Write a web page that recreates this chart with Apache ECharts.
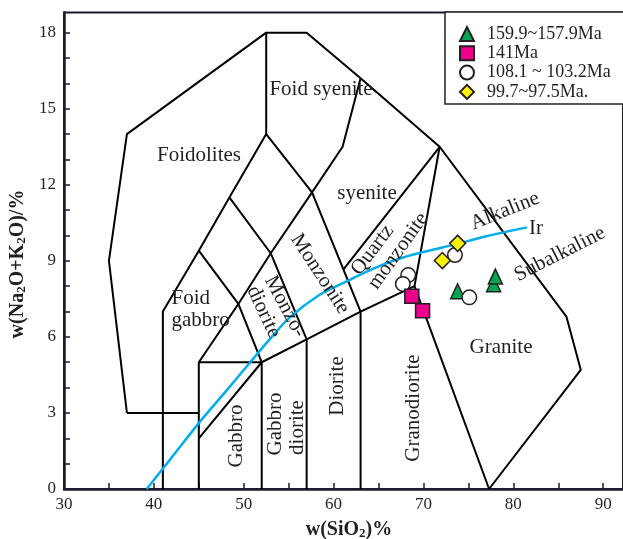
<!DOCTYPE html>
<html>
<head>
<meta charset="utf-8">
<script src="https://cdn.jsdelivr.net/npm/echarts@6/dist/echarts.min.js"></script>
<style>
  html, body { margin: 0; padding: 0; background: #fff; }
  #main { width: 623px; height: 539px; }
</style>
</head>
<body>
<div id="main"></div>
<script>
// ---- sample groups (SiO2 wt%, Na2O+K2O wt%) ----
const groupNames = ['159.9~157.9Ma', '141Ma', '108.1 ~ 103.2Ma', '99.7~97.5Ma.'];
const group1 = [[73.8, 7.8], [77.8, 8.08], [78.0, 8.38]];
const group2 = [[68.7, 7.6], [69.9, 7.03]];
const group3 = [[73.5, 9.23], [68.3, 8.44], [67.7, 8.09], [75.1, 7.56]];
const group4 = [[73.8, 9.69], [72.1, 9.01]];

// ---- axis tick labels ----
const xTickLabels = [30, 40, 50, 60, 70, 80, 90];
const yTickLabels = [0, 3, 6, 9, 12, 15, 18];

// ---- plutonic TAS field boundaries ----
const outerLine = [[37, 3], [35, 9], [37, 14], [52.5, 18], [57, 18], [63, 16.2], [71.8, 13.5], [85.9, 6.8], [87.5, 4.7], [77.3, 0]];
const base3Line = [[37, 3], [45, 3]];
const foidGabbroLine = [[41, 0], [41, 7], [45, 9.4], [48.4, 11.5], [52.5, 14], [52.5, 18]];
const syeniteLine = [[52.5, 14], [57.6, 11.7], [63, 7], [63, 0]];
const foidSyeniteLine = [[57.6, 11.7], [61, 13.5], [63, 16.2]];
const monzoniteLine = [[48.4, 11.5], [53, 9.3], [57, 5.9], [57, 0]];
const monzodioriteLine = [[57.6, 11.7], [53, 9.3], [49.4, 7.3], [45, 5]];
const gabbroDioriteLine = [[45, 9.4], [49.4, 7.3], [52, 5], [52, 0]];
const lowerLine = [[45, 0], [45, 5], [52, 5], [57, 5.9], [63, 7], [69, 8], [71.8, 13.5]];
const gabbroSplitLine = [[45, 2], [52, 5]];
const quartzMonzoniteLine = [[61.1, 8.66], [71.8, 13.5]];
const graniteLine = [[69, 8], [77.3, 0]];
const fieldLines = [outerLine, base3Line, foidGabbroLine, syeniteLine, foidSyeniteLine, monzoniteLine,
  monzodioriteLine, gabbroDioriteLine, lowerLine, gabbroSplitLine, quartzMonzoniteLine, graniteLine];

// Irvine & Baragar alkaline / subalkaline divide
const irLine = [[39.2, 0], [42, 1.25], [45, 2.6], [48, 3.85], [50.6, 4.95], [53, 5.95], [55.06, 6.75],
  [58.4, 7.65], [61.5, 8.2], [64.5, 8.7], [67.25, 9.08], [70.6, 9.4], [73.2, 9.62], [77, 9.97], [81.5, 10.32]];

const FONT = '"Liberation Serif", "Times New Roman", serif';
const INK = '#231f20';
const AXIS = '#1c1b2e';

const chart = echarts.init(document.getElementById('main'), null, { renderer: 'canvas' });

const lineSeries = fieldLines.map(pts => ({
  type: 'line', data: pts, showSymbol: false, silent: true, animation: false,
  lineStyle: { color: '#000', width: 2 }, z: 2
}));

lineSeries.push({
  type: 'line', data: irLine, showSymbol: false, silent: true, animation: false, smooth: 0.3,
  lineStyle: { color: '#00aeef', width: 2.5 }, z: 3
});

function scatter(name, data, symbol, size, color) {
  return {
    name, type: 'scatter', data, symbol, symbolSize: size, animation: false,
    itemStyle: { color, borderColor: INK, borderWidth: 1.5, opacity: 1 }, z: 5
  };
}

// drawing order: triangles, circles, squares, diamonds
const pointSeries = [
  scatter(groupNames[0], group1, 'triangle', [14, 15], '#00a651'),
  scatter(groupNames[2], group3, 'circle', 14.5, '#ffffff'),
  scatter(groupNames[1], group2, 'rect', 14, '#ec008c'),
  scatter(groupNames[3], group4, 'diamond', 16, '#fff200')
];

function label(text, x, y, deg, opts) {
  opts = opts || {};
  return {
    type: 'text', x, y, rotation: (deg || 0) * Math.PI / 180, silent: true, z: 10,
    style: {
      text, fill: INK, font: (opts.size || 21) + 'px ' + FONT,
      align: opts.align || 'center', verticalAlign: 'middle'
    }
  };
}

const graphics = [
  label('Foid syenite', 321, 89),
  label('Foidolites', 199, 155),
  label('syenite', 367, 193),
  label('Quartz', 372.5, 250, 53),
  label('monzonite', 398.3, 251, 54.6),
  label('Monzonite', 320, 274, -57),
  label('Monzo-', 285, 306.5, -62),
  label('diorite', 263.5, 312, -65),
  label('Foid', 171.5, 298, 0, { align: 'left' }),
  label('gabbro', 171.5, 320, 0, { align: 'left' }),
  label('Gabbro', 236.7, 436, 90),
  label('Gabbro', 275.8, 424, 90),
  label('diorite', 297.5, 427.5, 90),
  label('Diorite', 337, 386, 90),
  label('Granodiorite', 413, 408, 90),
  label('Granite', 501, 347),
  label('Alkaline', 505, 211, 22),
  label('Ir', 536, 228),
  label('Subalkaline', 560, 254, 27),
  // axis titles
  {
    type: 'text', x: 349, y: 530, silent: true,
    style: {
      text: '{a|w(SiO}{s|2}{a|)%}', align: 'center', verticalAlign: 'middle',
      rich: {
        a: { fontFamily: FONT, fontSize: 20, fontWeight: 'bold', fill: INK, color: INK },
        s: { fontFamily: FONT, fontSize: 13, fontWeight: 'bold', fill: INK, color: INK, verticalAlign: 'bottom' }
      }
    }
  },
  {
    type: 'text', x: 18, y: 264, rotation: Math.PI / 2, silent: true,
    style: {
      text: '{a|w(Na}{s|2}{a|O+K}{s|2}{a|O)/%}', align: 'center', verticalAlign: 'middle',
      rich: {
        a: { fontFamily: FONT, fontSize: 20, fontWeight: 'bold', fill: INK, color: INK },
        s: { fontFamily: FONT, fontSize: 13, fontWeight: 'bold', fill: INK, color: INK, verticalAlign: 'bottom' }
      }
    }
  },
  // legend frame
  {
    type: 'rect', silent: true, z: 1,
    shape: { x: 445, y: 12, width: 200, height: 92 },
    style: { fill: '#fff', stroke: INK, lineWidth: 1.5 }
  }
];

const option = {
  animation: false,
  backgroundColor: '#fff',
  grid: {
    left: 64, top: 12.4, width: 561, height: 476.6,
    show: true, borderColor: AXIS, borderWidth: 2, backgroundColor: 'transparent'
  },
  xAxis: {
    type: 'value', min: 30, max: 92.2, interval: 5,
    axisLine: { show: true, onZero: false, lineStyle: { color: AXIS, width: 2.5 } },
    axisTick: { show: true, inside: true, length: 6, lineStyle: { color: AXIS, width: 1.5 } },
    splitLine: { show: false },
    axisLabel: {
      margin: 7, fontFamily: FONT, fontSize: 17, color: INK,
      showMaxLabel: false,
      formatter: v => (xTickLabels.includes(Math.round(v * 100) / 100) ? String(v) : '')
    }
  },
  yAxis: {
    type: 'value', min: 0, max: 18.8, interval: 1,
    axisLine: { show: true, onZero: false, lineStyle: { color: AXIS, width: 2.5 } },
    axisTick: { show: true, inside: true, length: 6, lineStyle: { color: AXIS, width: 1.5 } },
    splitLine: { show: false },
    axisLabel: {
      margin: 8, fontFamily: FONT, fontSize: 17, color: INK,
      showMaxLabel: false,
      formatter: v => (yTickLabels.includes(Math.round(v * 100) / 100) ? String(v) : '')
    }
  },
  legend: {
    data: groupNames, orient: 'vertical', left: 454, top: 20, itemGap: 1.3,
    itemWidth: 14, itemHeight: 14, selectedMode: false, z: 6,
    textStyle: { fontFamily: FONT, fontSize: 18, lineHeight: 18, color: INK, padding: [0, 0, 0, 8] }
  },
  graphic: graphics,
  series: lineSeries.concat(pointSeries)
};

chart.setOption(option);
</script>
</body>
</html>
